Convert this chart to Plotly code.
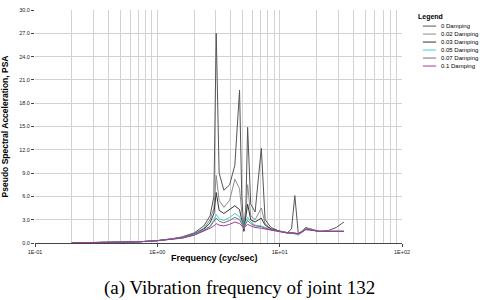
import plotly.graph_objects as go

freq = [0.2, 0.3, 0.5, 0.7, 1.0, 1.3, 1.6, 2.0, 2.4, 2.7, 2.9, 3.03, 3.2, 3.5, 3.9, 4.3, 4.7,
        4.9, 5.1, 5.3, 5.47, 5.8, 6.3, 7.08, 7.6, 8.5, 10, 11.5, 12.5, 13.3, 14.2, 15.2, 16.3,
        18, 21, 25, 29, 33.5]

d0 = [0.02, 0.05, 0.1, 0.15, 0.3, 0.5, 0.8, 1.3, 2.2, 3.5, 6.0, 27.0, 9.0, 6.8, 7.5, 10.0, 19.7,
      6.0, 1.5, 5.0, 14.9, 5.0, 4.0, 12.2, 3.0, 2.0, 1.5, 1.3, 1.8, 6.1, 1.2, 1.5, 2.0,
      1.8, 1.5, 1.6, 2.0, 2.7]
d02 = [0.02, 0.05, 0.1, 0.15, 0.3, 0.5, 0.75, 1.2, 1.9, 3.0, 4.5, 8.7, 5.5, 4.6, 5.5, 8.2, 7.0,
       4.0, 1.5, 4.0, 7.5, 3.5, 3.0, 4.5, 2.5, 1.8, 1.5, 1.3, 1.3, 1.3, 1.2, 1.5, 1.9,
       1.8, 1.5, 1.5, 1.5, 1.5]
d03 = [0.02, 0.05, 0.1, 0.15, 0.3, 0.5, 0.7, 1.15, 1.8, 2.6, 3.8, 6.5, 4.2, 3.8, 4.3, 4.8, 4.3,
       3.0, 1.6, 3.5, 5.0, 3.0, 2.7, 3.2, 2.3, 1.8, 1.5, 1.3, 1.3, 1.25, 1.2, 1.4, 1.8,
       1.7, 1.5, 1.5, 1.5, 1.5]
d05 = [0.02, 0.05, 0.1, 0.15, 0.3, 0.5, 0.68, 1.1, 1.7, 2.2, 3.0, 3.7, 3.1, 2.9, 3.3, 3.8, 3.4,
       2.7, 1.8, 2.8, 3.3, 2.7, 2.3, 2.2, 2.0, 1.7, 1.5, 1.3, 1.25, 1.2, 1.0, 1.4, 1.8,
       1.7, 1.5, 1.5, 1.5, 1.5]
d07 = [0.02, 0.05, 0.1, 0.15, 0.3, 0.48, 0.65, 1.05, 1.6, 2.1, 2.7, 3.2, 2.8, 2.6, 2.9, 3.3, 3.0,
       2.5, 1.9, 2.5, 2.9, 2.5, 2.2, 2.1, 1.9, 1.7, 1.5, 1.3, 1.25, 1.2, 1.15, 1.4, 1.8,
       1.7, 1.5, 1.5, 1.5, 1.5]
d10 = [0.02, 0.05, 0.1, 0.15, 0.3, 0.46, 0.62, 1.0, 1.5, 1.9, 2.2, 2.5, 2.3, 2.2, 2.4, 2.7, 2.5,
       2.2, 1.9, 2.2, 2.4, 2.2, 2.0, 1.9, 1.8, 1.6, 1.45, 1.3, 1.25, 1.2, 1.2, 1.4, 1.7,
       1.65, 1.5, 1.5, 1.5, 1.5]

series_names = ["0 Damping", "0.02 Damping", "0.03 Damping", "0.05 Damping", "0.07 Damping", "0.1 Damping"]
series_values = [d0, d02, d03, d05, d07, d10]
colors = ["#555555", "#8c8c8c", "#333333", "#40d0d8", "#806a70", "#a03a9a"]

x_tickvals = [0.1, 1, 10, 100]
x_ticktext = ["1E-01", "1E+00", "1E+01", "1E+02"]
y_tickvals = [0, 3, 6, 9, 12, 15, 18, 21, 24, 27, 30]
y_ticktext = ["%.1f" % v for v in y_tickvals]

fig = go.Figure()
for name, vals, col in zip(series_names, series_values, colors):
    fig.add_trace(go.Scatter(x=freq, y=vals, mode="lines", name=name,
                             line=dict(color=col, width=1), showlegend=False))

# manual compact legend
fig.add_annotation(xref="paper", yref="paper", x=1.039, y=0.972, text="<b>Legend</b>",
                   showarrow=False, xanchor="left", yanchor="middle",
                   font=dict(family="Arial, Liberation Sans", size=7, color="#000"))
for i, (name, col) in enumerate(zip(series_names, colors)):
    yy = 0.931 - i * 0.0343
    fig.add_shape(type="line", xref="paper", yref="paper", x0=1.057, x1=1.093, y0=yy, y1=yy,
                  line=dict(color=col, width=1))
    fig.add_annotation(xref="paper", yref="paper", x=1.1, y=yy, text=name, showarrow=False,
                       xanchor="left", yanchor="middle",
                       font=dict(family="Arial, Liberation Sans", size=6, color="#000"))

fig.add_annotation(xref="paper", yref="paper", x=0.49, y=-0.065, text="<b>Frequency (cyc/sec)</b>",
                   showarrow=False, xanchor="center", yanchor="middle",
                   font=dict(family="Arial, Liberation Sans", size=9, color="#000"))
fig.add_annotation(xref="paper", yref="paper", x=-0.082, y=0.5,
                   text="<b>Pseudo Spectral Acceleration, PSA</b>", textangle=-90,
                   showarrow=False, xanchor="center", yanchor="middle",
                   font=dict(family="Arial, Liberation Sans", size=8.5, color="#000"))
fig.add_annotation(xref="paper", yref="paper", x=0.557, y=-0.193,
                   text="(a) Vibration frequency of joint 132",
                   showarrow=False, xanchor="center", yanchor="middle",
                   font=dict(family="Liberation Serif, Times New Roman", size=19, color="#000"))

fig.update_layout(
    width=480, height=300,
    margin=dict(l=35, r=78, t=7, b=57),
    paper_bgcolor="white", plot_bgcolor="white",
    xaxis=dict(type="log", range=[-1, 2], tickvals=x_tickvals, ticktext=x_ticktext,
               showgrid=True, gridcolor="#d2d2d2", gridwidth=1,
               minor=dict(dtick="D1", showgrid=True, gridcolor="#d2d2d2", gridwidth=1,
                          ticks=""),
               showline=True, linecolor="#444", linewidth=1,
               ticks="outside", ticklen=3, tickcolor="#444",
               tickfont=dict(family="Arial, Liberation Sans", size=5.5, color="#222"),
               zeroline=False),
    yaxis=dict(range=[0, 30], tickvals=y_tickvals, ticktext=y_ticktext,
               showgrid=True, gridcolor="#d2d2d2", gridwidth=1,
               showline=False, ticks="outside", ticklen=3, tickcolor="#444",
               tickfont=dict(family="Arial, Liberation Sans", size=5.5, color="#222"),
               zeroline=False),
)

fig.write_html("out.html", config={"displayModeBar": False},
               post_script="document.body.style.margin='0px';document.body.style.overflow='hidden';")
